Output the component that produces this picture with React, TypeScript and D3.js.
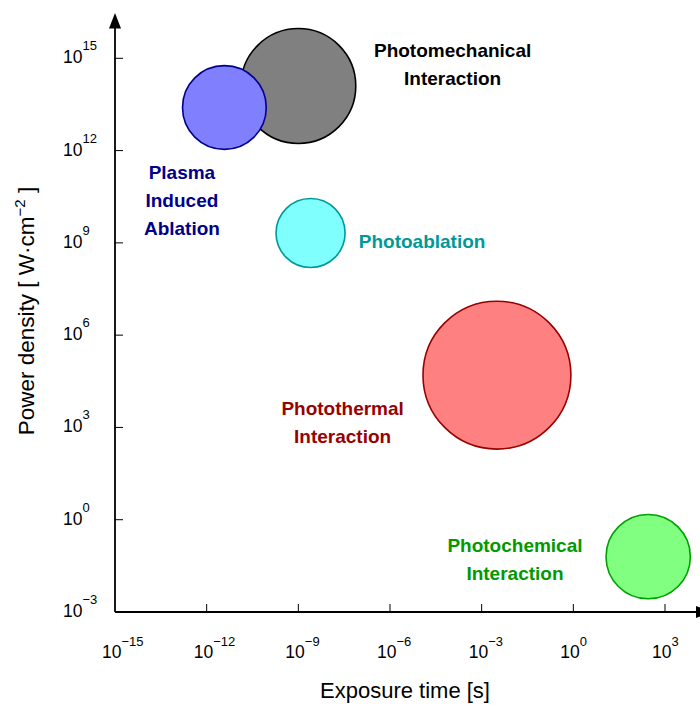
import React from "react";
import * as d3 from "d3";

// Interaction regimes: centre (log10 exposure time, log10 power density), radius in decades
const names = ["Photomechanical", "Plasma", "Photoablation", "Photothermal", "Photochemical"];
const logTime = [-9.0, -11.42, -8.6, -2.5, 2.45];
const logPower = [14.1, 13.4, 9.32, 4.7, -1.2];
const radiusDecades = [1.88, 1.37, 1.13, 2.42, 1.38];
const fills = ["#808080", "#8080ff", "#80ffff", "#ff8080", "#80ff80"];
const strokes = ["#000000", "#00008b", "#009999", "#990000", "#00a000"];

const labelLines = [
  ["Photomechanical", "Interaction"],
  ["Plasma", "Induced", "Ablation"],
  ["Photoablation"],
  ["Photothermal", "Interaction"],
  ["Photochemical", "Interaction"],
];
const labelLogTime = [-3.95, -12.81, -4.95, -7.55, -1.91];
const labelLogPower = [15.04, 11.08, 8.83, 3.4, -1.05];
const labelColors = ["#000000", "#00008b", "#009999", "#990000", "#009900"];

const xTickExps = [-15, -12, -9, -6, -3, 0, 3];
const yTickExps = [-3, 0, 3, 6, 9, 12, 15];

const W = 700;
const H = 710;

export default function App() {
  const x = d3.scaleLog().domain([1e-15, 1e3]).range([115, 665]);
  const y = d3.scaleLog().domain([1e-3, 1e15]).range([612, 58.3]);
  const x0 = 115;
  const y0 = 612;
  const sup = (e: number) => (e < 0 ? "\u2212" + Math.abs(e) : String(e));
  const font = "'Liberation Sans', Arial, Helvetica, sans-serif";

  return (
    <svg
      width={W}
      height={H}
      style={{ position: "absolute", left: 0, top: 0, background: "#fff" }}
      fontFamily={font}
    >
      {/* circles */}
      {names.map((n, i) => {
        const cx = x(Math.pow(10, logTime[i]));
        const cy = y(Math.pow(10, logPower[i]));
        const r = x(Math.pow(10, logTime[i] + radiusDecades[i])) - cx;
        return (
          <circle key={n} cx={cx} cy={cy} r={r} fill={fills[i]} stroke={strokes[i]} strokeWidth={1.6} />
        );
      })}

      {/* labels */}
      {labelLines.map((lines, i) => {
        const lx = x(Math.pow(10, labelLogTime[i]));
        const ly = y(Math.pow(10, labelLogPower[i]));
        return (
          <text
            key={i}
            x={lx}
            y={ly}
            textAnchor="middle"
            fontSize={19}
            fontWeight="bold"
            fill={labelColors[i]}
          >
            {lines.map((l, j) => (
              <tspan key={j} x={lx} dy={j === 0 ? 0 : 28}>
                {l}
              </tspan>
            ))}
          </text>
        );
      })}

      {/* axes */}
      <line x1={x0} y1={y0} x2={697} y2={y0} stroke="#000" strokeWidth={1.8} />
      <path d={`M696,${y0 - 6} L711,${y0} L696,${y0 + 6} Z`} fill="#000" />
      <line x1={x0} y1={y0} x2={x0} y2={27} stroke="#000" strokeWidth={1.8} />
      <path d={`M${x0 - 6},28.5 L${x0},13 L${x0 + 6},28.5 Z`} fill="#000" />

      {xTickExps.map((e) => {
        const tx = x(Math.pow(10, e));
        return (
          <g key={"x" + e}>
            {e !== -15 && <line x1={tx} x2={tx} y1={y0} y2={y0 - 8} stroke="#000" strokeWidth={1} />}
            <text x={tx - 13} y={658} fontSize={17.5} fill="#000">
              10
              <tspan dy={-12} fontSize={13}>
                {sup(e)}
              </tspan>
            </text>
          </g>
        );
      })}
      {yTickExps.map((e) => {
        const ty = y(Math.pow(10, e));
        return (
          <g key={"y" + e}>
            {e !== -3 && <line x1={x0} x2={x0 + 8} y1={ty} y2={ty} stroke="#000" strokeWidth={1} />}
            <text x={63} y={ty + 5} fontSize={17.5} fill="#000">
              10
              <tspan dy={-13} fontSize={13}>
                {sup(e)}
              </tspan>
            </text>
          </g>
        );
      })}

      <text x={405} y={698} textAnchor="middle" fontSize={22} fill="#000">
        Exposure time [s]
      </text>
      <text
        transform="translate(34,311) rotate(-90)"
        textAnchor="middle"
        fontSize={22.5}
        fill="#000"
      >
        Power density [ W·cm
        <tspan dy={-9} fontSize={15}>
          {"\u22122"}
        </tspan>
        <tspan dy={9}> ]</tspan>
      </text>
    </svg>
  );
}
